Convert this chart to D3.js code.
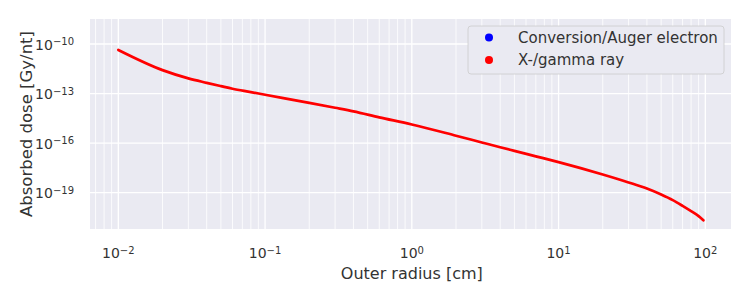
<!DOCTYPE html>
<html>
<head>
<meta charset="utf-8">
<script src="https://cdn.jsdelivr.net/npm/d3@7"></script>
<style>
  body { margin: 0; background: #fff; }
  svg text { font-family: "DejaVu Sans", sans-serif; fill: #333; }
</style>
</head>
<body>
<svg id="chart" width="750" height="300"></svg>
<script>

/*
 * Data.
 */

// Outer radius [cm].
var radius = [0.01, 0.02, 0.03, 0.04, 0.05, 0.06, 0.08, 0.1, 0.2, 0.3, 0.4, 0.6, 1,
  2, 3, 4, 5, 7, 10, 20, 30, 40, 50, 60, 70, 80, 90, 97];

// log10 of absorbed dose [Gy/nt], X-/gamma ray.
var logDose = [-10.36, -11.58, -12.08, -12.35, -12.55, -12.71, -12.91, -13.07, -13.56,
  -13.86, -14.08, -14.44, -14.87, -15.55, -15.96, -16.25, -16.47, -16.8, -17.15, -17.9,
  -18.38, -18.75, -19.11, -19.45, -19.8, -20.12, -20.42, -20.67];

// Legend entries.
var seriesNames = ['Conversion/Auger electron', 'X-/gamma ray'];
var seriesColors = ['#0000ff', '#ff0000'];

// Ticks (exponents).
var xTicks = [-2, -1, 0, 1, 2];
var yTicks = [-19, -16, -13, -10];

/*
 * Layout.
 */
var margin = { top: 19, right: 19, bottom: 71, left: 90 };
var width = 750 - margin.left - margin.right;
var height = 300 - margin.top - margin.bottom;

var svg = d3.select('#chart');
var g = svg.append('g')
  .attr('transform', 'translate(' + margin.left + ',' + margin.top + ')');

// Scales.
var x = d3.scaleLog()
  .domain([Math.pow(10, -2.193), Math.pow(10, 2.175)])
  .range([0, width]);
var y = d3.scaleLog()
  .domain([Math.pow(10, -21.2), Math.pow(10, -8.485)])
  .range([height, 0]);

// Background.
g.append('rect')
  .attr('width', width)
  .attr('height', height)
  .attr('fill', '#eaeaf2');

// Minor x gridlines.
var minor = [];
for (var e = -3; e <= 2; e++) {
  for (var m = 2; m <= 9; m++) {
    var v = m * Math.pow(10, e);
    if (v > x.domain()[0] && v < x.domain()[1]) minor.push(v);
  }
}
g.append('g').selectAll('line')
  .data(minor)
  .join('line')
  .attr('x1', function(d) { return x(d); })
  .attr('x2', function(d) { return x(d); })
  .attr('y1', 0)
  .attr('y2', height)
  .attr('stroke', '#fff')
  .attr('stroke-width', 0.8);

// Major gridlines.
g.append('g').selectAll('line')
  .data(xTicks)
  .join('line')
  .attr('x1', function(d) { return x(Math.pow(10, d)); })
  .attr('x2', function(d) { return x(Math.pow(10, d)); })
  .attr('y1', 0)
  .attr('y2', height)
  .attr('stroke', '#fff')
  .attr('stroke-width', 1.3);

g.append('g').selectAll('line')
  .data(yTicks)
  .join('line')
  .attr('y1', function(d) { return y(Math.pow(10, d)); })
  .attr('y2', function(d) { return y(Math.pow(10, d)); })
  .attr('x1', 0)
  .attr('x2', width)
  .attr('stroke', '#fff')
  .attr('stroke-width', 1.3);

/*
 * Tick labels as 10 with a superscript exponent.
 */
function powerLabel(sel, exp) {
  sel.append('tspan').text('10');
  sel.append('tspan')
    .attr('dy', '-0.45em')
    .attr('font-size', '10px')
    .text(exp < 0 ? '\u2212' + Math.abs(exp) : String(exp));
}

g.append('g').selectAll('text')
  .data(xTicks)
  .join('text')
  .attr('x', function(d) { return x(Math.pow(10, d)); })
  .attr('y', height + 29)
  .attr('text-anchor', 'middle')
  .attr('font-size', '14px')
  .each(function(d) { powerLabel(d3.select(this), d); });

g.append('g').selectAll('text')
  .data(yTicks)
  .join('text')
  .attr('x', -16)
  .attr('y', function(d) { return y(Math.pow(10, d)) + 5.5; })
  .attr('text-anchor', 'end')
  .attr('font-size', '14px')
  .each(function(d) { powerLabel(d3.select(this), d); });

// Axis titles.
svg.append('text')
  .attr('x', margin.left + x(1))
  .attr('y', 279)
  .attr('text-anchor', 'middle')
  .attr('font-size', '16px')
  .text('Outer radius [cm]');

svg.append('text')
  .attr('transform', 'translate(32,' + (margin.top + height / 2) + ') rotate(-90)')
  .attr('text-anchor', 'middle')
  .attr('font-size', '16.5px')
  .text('Absorbed dose [Gy/nt]');

/*
 * Dose curve.
 */
var points = radius.map(function(r, i) {
  return [r, Math.pow(10, logDose[i])];
});

var line = d3.line()
  .x(function(d) { return x(d[0]); })
  .y(function(d) { return y(d[1]); })
  .curve(d3.curveMonotoneX);

g.append('path')
  .datum(points)
  .attr('d', line)
  .attr('fill', 'none')
  .attr('stroke', seriesColors[1])
  .attr('stroke-width', 2.7)
  .attr('stroke-linecap', 'round');

/*
 * Legend.
 */
var legend = svg.append('g').attr('transform', 'translate(468,26)');

legend.append('rect')
  .attr('width', 256)
  .attr('height', 48)
  .attr('rx', 3)
  .attr('fill', '#eaeaf2')
  .attr('stroke', '#cccccc')
  .attr('stroke-width', 0.8);

var item = legend.selectAll('g.item')
  .data(seriesNames)
  .join('g')
  .attr('class', 'item')
  .attr('transform', function(d, i) { return 'translate(0,' + (11.5 + i * 22.5) + ')'; });

item.append('circle')
  .attr('cx', 21)
  .attr('cy', 0)
  .attr('r', 4)
  .attr('fill', function(d, i) { return seriesColors[i]; });

item.append('text')
  .attr('x', 50)
  .attr('y', 5)
  .attr('font-size', '15px')
  .text(function(d) { return d; });

</script>
</body>
</html>
